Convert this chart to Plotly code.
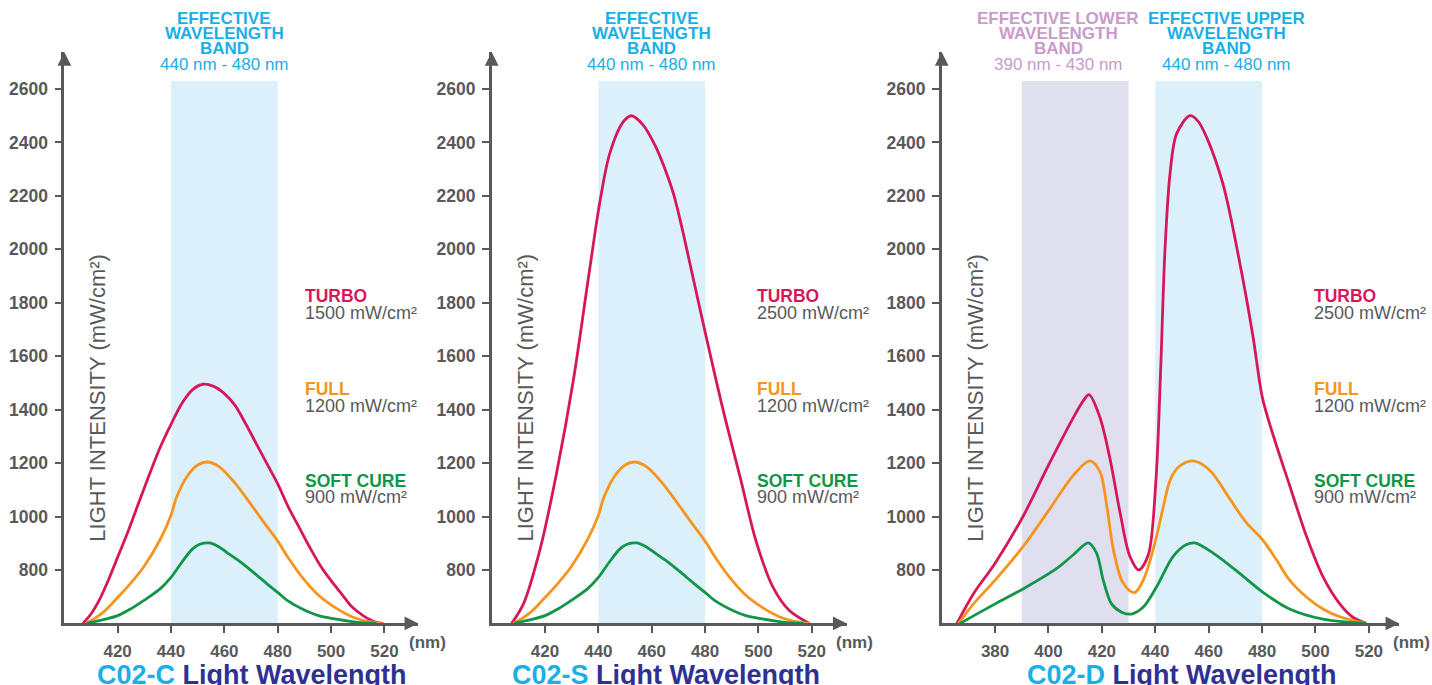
import plotly.graph_objects as go

# ---------------- DATA ----------------
# Panel 1: C02-C
C_TURBO_NM = [407, 410, 413, 416, 420, 424, 428, 432, 436, 440, 444, 448, 452, 456, 460, 464, 468, 472, 476, 480, 484, 488, 492, 496, 500, 504, 508, 512, 516, 519.5]
C_TURBO = [600, 635, 685, 750, 848, 947, 1054, 1160, 1260, 1345, 1422, 1474, 1495, 1487, 1460, 1416, 1347, 1272, 1197, 1122, 1035, 960, 885, 816, 760, 710, 660, 629, 607, 600]
C_FULL_NM = [408, 411, 415, 420, 425, 430, 436, 440, 442, 446, 450, 453.5, 458, 464, 470, 476, 480, 484, 489, 495, 502, 508, 513, 519]
C_FULL = [600, 616, 645, 697, 752, 815, 915, 1005, 1070, 1150, 1193, 1204, 1187, 1125, 1045, 962, 908, 845, 775, 708, 656, 624, 609, 600]
C_SOFT_NM = [408.5, 413, 420, 425, 430, 436, 440, 444, 448, 451, 454.5, 458, 462, 466, 471, 476, 480, 484, 489, 495, 502, 510, 517]
C_SOFT = [600, 610, 629, 655, 687, 730, 772, 828, 878, 897, 901, 886, 858, 830, 790, 748, 716, 683, 655, 630, 616, 604, 600]

# Panel 2: C02-S
S_TURBO_NM = [407.5, 411.9, 418.1, 424.4, 430.6, 436.8, 440.6, 444.3, 449.3, 452.4, 456.8, 461.2, 465, 468.1, 471, 474.3, 480.6, 486.8, 493.1, 499.2, 505.4, 511.6, 519.1]
S_TURBO = [600, 673, 876, 1167, 1509, 1930, 2180, 2360, 2477, 2500, 2465, 2390, 2300, 2210, 2095, 1948, 1665, 1397, 1149, 905, 737, 648, 600]
S_FULL_NM = [408, 411, 415, 420, 425, 430, 436, 440, 442, 446, 450, 453.5, 458, 464, 470, 476, 480, 484, 489, 495, 502, 508, 513, 519]
S_FULL = [600, 616, 645, 697, 752, 815, 915, 1005, 1070, 1150, 1193, 1204, 1187, 1125, 1045, 962, 908, 845, 775, 708, 656, 624, 609, 600]
S_SOFT_NM = [408.5, 413, 420, 425, 430, 436, 440, 444, 448, 451, 454.5, 458, 462, 466, 471, 476, 480, 484, 489, 495, 502, 510, 517]
S_SOFT = [600, 610, 629, 655, 687, 730, 772, 828, 878, 897, 901, 886, 858, 830, 790, 748, 716, 683, 655, 630, 616, 604, 600]

# Panel 3: C02-D
D_TURBO_NM = [365.7, 371.9, 380, 390.6, 400, 409.3, 413.0, 415.2, 419.3, 423.0, 426.8, 430.5, 433.9, 437.4, 440.2, 442.0, 443.6, 445.5, 448.0, 453.0, 456.0, 459.2, 465.4, 471.6, 476.6, 480.1, 484.1, 490.3, 496.6, 502.8, 509.1, 514.0, 519.0]
D_TURBO = [600, 711, 825, 1003, 1192, 1370, 1433, 1456, 1370, 1218, 1015, 851, 800, 857, 1129, 1547, 1990, 2281, 2433, 2500, 2480, 2420, 2243, 1952, 1674, 1446, 1306, 1117, 927, 775, 673, 623, 600]
D_FULL_NM = [366.3, 371.9, 380, 390.6, 400, 409.3, 415.5, 419.3, 421.8, 424.3, 427.4, 430.5, 432.4, 435.5, 439.2, 443.0, 445.0, 447.0, 450.0, 454.2, 460.4, 467.9, 474.1, 480.1, 485.4, 490.3, 496.6, 502.8, 509.1, 519]
D_FULL = [600, 673, 762, 889, 1022, 1154, 1208, 1167, 1041, 876, 762, 722, 716, 762, 876, 1035, 1120, 1165, 1195, 1208, 1173, 1066, 977, 914, 838, 762, 699, 654, 625, 600]
D_SOFT_NM = [366.9, 380, 390.6, 403.1, 409.3, 414.9, 418.0, 420.5, 423.6, 427.4, 431.1, 435.5, 440.5, 446.7, 451.7, 454.8, 461.7, 471.6, 480.1, 490.3, 502.8, 519]
D_SOFT = [600, 673, 730, 806, 857, 901, 863, 762, 673, 642, 635, 661, 737, 851, 895, 901, 863, 787, 718, 654, 616, 600]

Y_TICKS = [800, 1000, 1200, 1400, 1600, 1800, 2000, 2200, 2400, 2600]
X_TICKS_CS = [420, 440, 460, 480, 500, 520]
X_TICKS_D = [380, 400, 420, 440, 460, 480, 500, 520]

MODEL_NAMES = ["C02-C", "C02-S", "C02-D"]
AXIS_TITLE = "Light Wavelength"
Y_TITLE = "LIGHT INTENSITY (mW/cm²)"
MODE_NAMES = ["TURBO", "FULL", "SOFT CURE"]
MODE_VALUES = [["1500 mW/cm²", "1200 mW/cm²", "900 mW/cm²"],
               ["2500 mW/cm²", "1200 mW/cm²", "900 mW/cm²"],
               ["2500 mW/cm²", "1200 mW/cm²", "900 mW/cm²"]]
BAND_LABEL = ["EFFECTIVE", "WAVELENGTH", "BAND", "440 nm - 480 nm"]
LOWER_LABEL = ["EFFECTIVE LOWER", "WAVELENGTH", "BAND", "390 nm - 430 nm"]
UPPER_LABEL = ["EFFECTIVE UPPER", "WAVELENGTH", "BAND", "440 nm - 480 nm"]
UPPER_BAND = [440, 480]
LOWER_BAND = [390, 430]
BAND_TOP = 2630

# ---------------- STYLE ----------------
W, H = 1432, 685
FONT = "Liberation Sans, Arial, sans-serif"
GRAY = "#58595b"
CYAN = "#1aafe6"
NAVY = "#2e3192"
LAV_TEXT = "#c89bc9"
BLUE_BAND = "#dcf0fb"
LAV_BAND = "#e0dff0"
COLORS = ["#d6185b", "#f7941d", "#119548"]


def px(x):
    return x / W


def py(y):
    return 1 - y / H


fig = go.Figure()

series = [
    [(C_TURBO_NM, C_TURBO), (C_FULL_NM, C_FULL), (C_SOFT_NM, C_SOFT)],
    [(S_TURBO_NM, S_TURBO), (S_FULL_NM, S_FULL), (S_SOFT_NM, S_SOFT)],
    [(D_TURBO_NM, D_TURBO), (D_FULL_NM, D_FULL), (D_SOFT_NM, D_SOFT)],
]
suffix = ["", "2", "3"]

for p in range(3):
    for k, (xs, ys) in enumerate(series[p]):
        fig.add_trace(go.Scatter(
            x=xs, y=ys, mode="lines",
            line=dict(color=COLORS[k], width=2.8, shape="spline", smoothing=0.9),
            xaxis="x" + suffix[p], yaxis="y" + suffix[p],
            cliponaxis=False, hoverinfo="skip", showlegend=False))

# axes geometry (pixels)
x_dom_px = [(64.3, 418.3), (491.7, 846.7), (941.7, 1399.3)]
x_ranges = [(400, 532.7), (400, 533.1), (360, 531.4)]
y_dom = [(H - 623.4) / H, (H - 52) / H]
y_range = [600, 2738.5]

tickfont = dict(family=FONT, size=17.5, color=GRAY, weight="bold")
layout = dict(
    width=W, height=H, margin=dict(l=0, r=0, t=0, b=0),
    paper_bgcolor="white", plot_bgcolor="rgba(0,0,0,0)",
    showlegend=False, font=dict(family=FONT, color=GRAY),
)
for p in range(3):
    xa = dict(domain=[px(x_dom_px[p][0]), px(x_dom_px[p][1])], range=list(x_ranges[p]),
              anchor="y" + suffix[p], showline=True, linecolor=GRAY, linewidth=2.5,
              ticks="outside", ticklen=7, tickwidth=2, tickcolor=GRAY,
              tickvals=X_TICKS_D if p == 2 else X_TICKS_CS,
              tickfont=dict(family=FONT, size=17, color=GRAY, weight="bold"),
              ticklabelstandoff=3,
              showgrid=False, zeroline=False, fixedrange=True)
    ya = dict(domain=list(y_dom), range=list(y_range), anchor="x" + suffix[p],
              showline=True, linecolor=GRAY, linewidth=2.5,
              ticks="outside", ticklen=7, tickwidth=2, tickcolor=GRAY,
              tickvals=Y_TICKS, tickfont=tickfont, ticklabelstandoff=3,
              showgrid=False, zeroline=False, fixedrange=True)
    layout["xaxis" + suffix[p]] = xa
    layout["yaxis" + suffix[p]] = ya
fig.update_layout(**layout)

shapes = []
annotations = []
for p in range(3):
    xr = "x" + suffix[p]
    yr = "y" + suffix[p]
    bands = [(UPPER_BAND, BLUE_BAND)]
    if p == 2:
        bands.append((LOWER_BAND, LAV_BAND))
    for (b0, b1), col in bands:
        shapes.append(dict(type="rect", xref=xr, yref=yr, x0=b0, x1=b1, y0=600, y1=BAND_TOP,
                           fillcolor=col, line=dict(width=0), layer="below"))
    # arrowheads
    annotations.append(dict(x=x_ranges[p][1], y=600, xref=xr, yref=yr, ax=-14, ay=0,
                            showarrow=True, arrowhead=2, arrowsize=1.1, arrowwidth=2.5,
                            arrowcolor=GRAY, text=""))
    annotations.append(dict(x=x_ranges[p][0], y=y_range[1], xref=xr, yref=yr, ax=0, ay=14,
                            showarrow=True, arrowhead=2, arrowsize=1.1, arrowwidth=2.5,
                            arrowcolor=GRAY, text=""))

# band labels
line_y = [18.8, 33.5, 48.8, 64.5]


def band_label(lines, xc, color):
    for i, t in enumerate(lines):
        annotations.append(dict(
            x=px(xc), y=py(line_y[i]), xref="paper", yref="paper",
            xanchor="center", yanchor="middle", showarrow=False, text=t,
            font=dict(family=FONT, size=17, color=color,
                      weight="bold" if i < 3 else "normal")))


band_label(BAND_LABEL, 224.4, CYAN)
band_label(BAND_LABEL, 651.8, CYAN)
band_label(LOWER_LABEL, 1058.3, LAV_TEXT)
band_label(UPPER_LABEL, 1226, CYAN)

# right-side mode labels
label_x = [303, 755, 1312]
name_y = [296, 389, 481]
for p in range(3):
    for k in range(3):
        annotations.append(dict(
            x=px(label_x[p]), y=py(name_y[k]), xref="paper", yref="paper",
            xanchor="left", yanchor="middle", showarrow=False, text=MODE_NAMES[k],
            font=dict(family=FONT, size=17.5, color=COLORS[k], weight="bold")))
        annotations.append(dict(
            x=px(label_x[p]), y=py(name_y[k] + 16.5), xref="paper", yref="paper",
            xanchor="left", yanchor="middle", showarrow=False, text=MODE_VALUES[p][k],
            font=dict(family=FONT, size=18, color=GRAY)))

# y-axis titles (inside plots)
ytitle_x = [96.7, 524.5, 974.7]
for p in range(3):
    annotations.append(dict(
        x=px(ytitle_x[p]), y=py(398), xref="paper", yref="paper",
        xanchor="center", yanchor="middle", showarrow=False, text=Y_TITLE,
        textangle=-90, font=dict(family=FONT, size=22, color=GRAY)))

# (nm) unit labels
nm_x = [427, 854, 1411]
for p in range(3):
    annotations.append(dict(
        x=px(nm_x[p]), y=py(642.5), xref="paper", yref="paper",
        xanchor="center", yanchor="middle", showarrow=False, text="(nm)",
        font=dict(family=FONT, size=17, color=GRAY, weight="bold")))

# bottom titles
title_x = [252, 666, 1182]
for p in range(3):
    annotations.append(dict(
        x=px(title_x[p]), y=py(675), xref="paper", yref="paper",
        xanchor="center", yanchor="middle", showarrow=False,
        text=f"<span style='color:{CYAN}'>{MODEL_NAMES[p]}</span> "
             f"<span style='color:{NAVY}'>{AXIS_TITLE}</span>",
        font=dict(family=FONT, size=27, weight="bold")))

fig.update_layout(shapes=shapes, annotations=annotations)
fig.write_html("out.html", config={"displayModeBar": False},
               post_script="document.body.style.margin='0';document.body.style.overflow='hidden';")
